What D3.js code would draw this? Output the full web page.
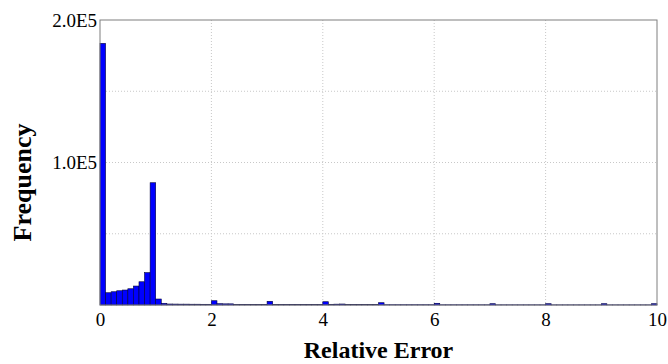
<!DOCTYPE html>
<html>
<head>
<meta charset="utf-8">
<script src="https://cdn.jsdelivr.net/npm/d3@7"></script>
<style>
  body { margin: 0; background: #fff; }
  svg { display: block; }
  text { font-family: "Times New Roman", "Liberation Serif", serif; }
</style>
</head>
<body>
<svg id="chart" width="668" height="364"></svg>
<script>
// histogram of relative error, bins of width 0.1 from 0 to 10
const binWidth = 0.1;
const binCounts = [
  183600, 8600, 9300, 10000, 10500, 11400, 13300, 16300, 22700, 85800,
  4200, 1200, 700, 650, 600, 600, 550, 550, 500, 500,
  3000, 900, 800, 800, 300, 300, 300, 300, 300, 300,
  2600, 300, 300, 300, 300, 300, 300, 300, 300, 300,
  2300, 500, 600, 700, 300, 300, 250, 250, 250, 250,
  1600, 200, 200, 200, 200, 200, 200, 200, 200, 200,
  1200, 150, 150, 150, 150, 150, 150, 150, 150, 150,
  900, 120, 120, 120, 120, 120, 120, 120, 120, 120,
  900, 100, 100, 100, 100, 100, 100, 100, 100, 100,
  900, 100, 100, 100, 100, 100, 100, 100, 100, 900
];
const xTicks = [0, 2, 4, 6, 8, 10];
const yTicks = [0, 50000, 100000, 150000, 200000];
const yTickLabels = ['', '', '1.0E5', '', '2.0E5'];

const width = 668, height = 364;
const margin = { top: 20, right: 11, bottom: 59, left: 100 };
const iw = width - margin.left - margin.right;
const ih = height - margin.top - margin.bottom;
const serif = '"Times New Roman", "Liberation Serif", serif';

const svg = d3.select('#chart');
const g = svg.append('g').attr('transform', `translate(${margin.left},${margin.top})`);

const x = d3.scaleLinear().domain([0, 10]).range([0, iw]);
const y = d3.scaleLinear().domain([0, 200000]).range([ih, 0]);

// grid
g.append('g')
  .selectAll('line')
  .data(xTicks.slice(1, -1))
  .join('line')
  .attr('x1', d => x(d)).attr('x2', d => x(d))
  .attr('y1', 0).attr('y2', ih)
  .attr('stroke', '#c8c8c8')
  .attr('stroke-dasharray', '1,2');

g.append('g')
  .selectAll('line')
  .data(yTicks.slice(1, -1))
  .join('line')
  .attr('x1', 0).attr('x2', iw)
  .attr('y1', d => y(d)).attr('y2', d => y(d))
  .attr('stroke', '#c8c8c8')
  .attr('stroke-dasharray', '1,2');

// bars
g.append('g')
  .selectAll('rect')
  .data(binCounts)
  .join('rect')
  .attr('x', (d, i) => x(i * binWidth))
  .attr('width', x(binWidth) - x(0))
  .attr('y', d => y(d))
  .attr('height', d => ih - y(d))
  .attr('fill', '#0000ff')
  .attr('stroke', '#00003a')
  .attr('stroke-width', 0.6);

// frame
g.append('rect')
  .attr('width', iw).attr('height', ih)
  .attr('fill', 'none')
  .attr('stroke', '#7f7f7f')
  .attr('stroke-width', 1);

// axes (plain text labels, no tick marks)
const xAxis = g.append('g')
  .attr('transform', `translate(0,${ih})`)
  .call(d3.axisBottom(x).tickValues(xTicks).tickSize(0).tickPadding(8).tickFormat(d3.format('d')));
xAxis.select('.domain').remove();

const yAxis = g.append('g')
  .call(d3.axisLeft(y).tickValues(yTicks).tickSize(0).tickPadding(3).tickFormat((d, i) => yTickLabels[i]));
yAxis.select('.domain').remove();

[xAxis, yAxis].forEach(a => a.attr('font-family', null).attr('font-size', null));
svg.selectAll('.tick text')
  .style('font-family', serif)
  .style('font-size', '19px')
  .style('font-weight', 'normal')
  .attr('fill', '#000');

svg.append('text')
  .attr('x', margin.left + iw / 2)
  .attr('y', 358)
  .attr('text-anchor', 'middle')
  .style('font-family', serif)
  .attr('font-weight', 'bold')
  .attr('font-size', 24)
  .text('Relative Error');

svg.append('text')
  .attr('transform', `translate(31,${margin.top + ih / 2 + 20}) rotate(-90)`)
  .attr('text-anchor', 'middle')
  .style('font-family', serif)
  .attr('font-weight', 'bold')
  .attr('font-size', 26)
  .text('Frequency');
</script>
</body>
</html>
